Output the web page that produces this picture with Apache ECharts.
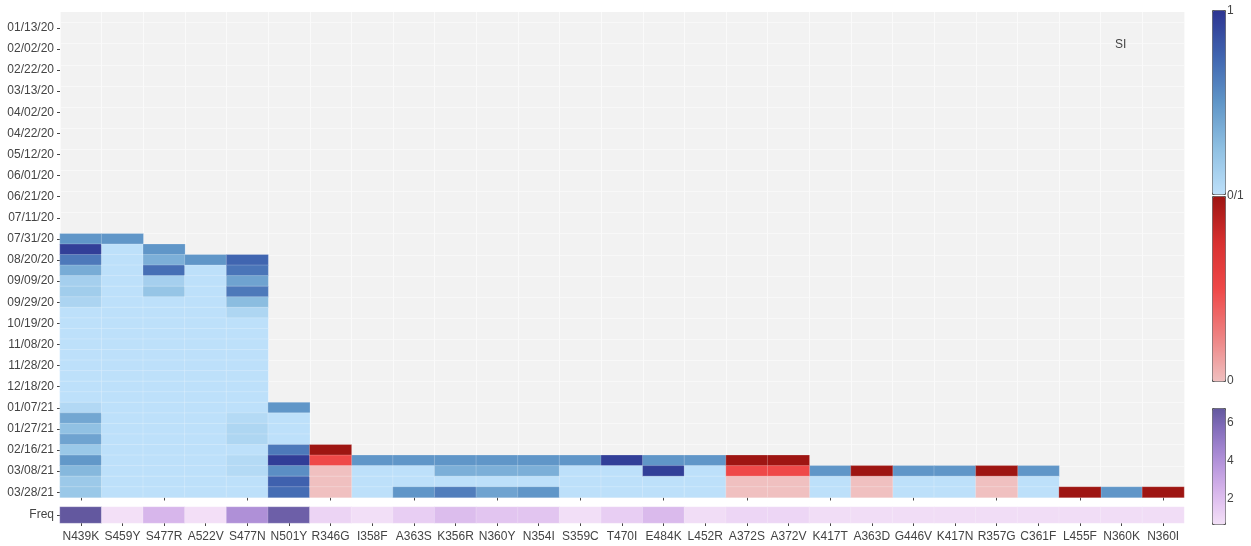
<!DOCTYPE html>
<html>
<head>
<meta charset="utf-8">
<script src="https://cdn.jsdelivr.net/npm/echarts@6/dist/echarts.min.js"></script>
<style>
  html, body { margin: 0; padding: 0; background: #fff; }
  #chart { width: 1251px; height: 546px; }
</style>
</head>
<body>
<div id="chart"></div>
<script>
// Mutations along the x axis
const mutations = ['N439K', 'S459Y', 'S477R', 'A522V', 'S477N', 'N501Y', 'R346G', 'I358F', 'A363S',
  'K356R', 'N360Y', 'N354I', 'S359C', 'T470I', 'E484K', 'L452R', 'A372S', 'A372V', 'K417T',
  'A363D', 'G446V', 'K417N', 'R357G', 'C361F', 'L455F', 'N360K', 'N360I'];

// Sampling dates (10-day bins) along the y axis
const dates = ['01/03/20', '01/13/20', '01/23/20', '02/02/20', '02/12/20', '02/22/20', '03/03/20',
  '03/13/20', '03/23/20', '04/02/20', '04/12/20', '04/22/20', '05/02/20', '05/12/20', '05/22/20',
  '06/01/20', '06/11/20', '06/21/20', '07/01/20', '07/11/20', '07/21/20', '07/31/20', '08/10/20',
  '08/20/20', '08/30/20', '09/09/20', '09/19/20', '09/29/20', '10/09/20', '10/19/20', '10/29/20',
  '11/08/20', '11/18/20', '11/28/20', '12/08/20', '12/18/20', '12/28/20', '01/07/21', '01/17/21',
  '01/27/21', '02/06/21', '02/16/21', '02/26/21', '03/08/21', '03/18/21', '03/28/21'];

// Mutations whose SI is drawn on the red scale
const redMutations = ['R346G', 'A372S', 'A372V', 'A363D', 'R357G', 'L455F', 'N360I'];

// First date bin (index into dates) in which each mutation has an SI value
const siStart = [21, 21, 22, 23, 23, 37, 41, 42, 42, 42, 42, 42, 42, 42, 42, 42, 42, 42, 43,
  43, 43, 43, 43, 43, 45, 45, 45];

// SI values per mutation, one per date bin from siStart onwards
const siValues = [
  [0.5, 0.95, 0.65, 0.37, 0.13, 0.15, 0.09, 0, 0, 0, 0, 0, 0, 0, 0, 0, 0.06, 0.4, 0.24, 0.42, 0.19, 0.49, 0.3, 0.18, 0.19],
  [0.5, 0, 0, 0, 0, 0, 0, 0, 0, 0, 0, 0, 0, 0, 0, 0, 0, 0, 0, 0, 0, 0, 0, 0, 0],
  [0.5, 0.35, 0.7, 0.13, 0.21, 0, 0, 0, 0, 0, 0, 0, 0, 0, 0, 0, 0, 0, 0, 0, 0, 0, 0, 0],
  [0.5, 0, 0, 0, 0, 0, 0, 0, 0, 0, 0, 0, 0, 0, 0, 0, 0, 0, 0, 0, 0, 0, 0],
  [0.75, 0.67, 0.42, 0.65, 0.27, 0.08, 0, 0, 0, 0, 0, 0, 0, 0, 0, 0.05, 0.08, 0.08, 0, 0.05, 0.05, 0, 0],
  [0.5, 0, 0, 0, 0.65, 0.96, 0.54, 0.77, 0.71],
  [1, 0.5, 0, 0, 0],
  [0.5, 0, 0, 0],
  [0.5, 0, 0, 0.5],
  [0.5, 0.35, 0, 0.62],
  [0.5, 0.35, 0, 0.42],
  [0.5, 0.35, 0, 0.5],
  [0.5, 0, 0, 0],
  [0.95, 0, 0, 0],
  [0.5, 0.95, 0, 0],
  [0.5, 0, 0, 0],
  [1, 0.5, 0, 0],
  [1, 0.5, 0, 0],
  [0.5, 0, 0],
  [1, 0, 0],
  [0.5, 0, 0],
  [0.5, 0, 0],
  [1, 0, 0],
  [0.5, 0, 0],
  [1],
  [0.5],
  [1]
];

// Frequency (log count) per mutation
const freq = [6.74, 0.69, 2.4, 0.72, 4.1, 6.4, 1.18, 0.75, 1.42, 2.1, 1.8, 1.8, 0.75, 1.42, 2.25,
  0.8, 1.1, 1.1, 0.8, 0.8, 0.8, 0.8, 0.8, 0.8, 0.8, 0.8, 0.8];

// Colour-bar tick labels
const freqTicks = [2, 4, 6];

const blueRamp = ['#bde0fa', '#8fc0e2', '#6096c8', '#4065b0', '#2e3592'];
const redRamp = ['#f0c0c0', '#ee8080', '#ef4848', '#d83030', '#9e1512'];
const purpRamp = ['#f3e0f7', '#e4c7f1', '#d1afe8', '#b998dd', '#9f82ce', '#826dba', '#63589f'];

const freqMin = 0.69, freqMax = 6.74;

// Split the SI cells into the blue and red heatmap series
const blueData = [], redData = [];
mutations.forEach((m, i) => {
  const target = redMutations.includes(m) ? redData : blueData;
  siValues[i].forEach((v, k) => target.push([i, siStart[i] + k, v]));
});
const freqData = freq.map((v, i) => [i, 0, v]);

const fontFamily = '"Liberation Sans", Arial, sans-serif';
const font = { fontFamily, fontSize: 12, color: '#444' };
const oddIdx = (idx) => idx % 2 === 1;

// Colour bar geometry
const barX = 1212, barW = 13;
const blueTop = 10, blueH = 184;
const redTop = 196, redH = 185;
const freqTop = 408, freqH = 116;

const labelText = (text, x, y) => ({
  type: 'text', x, y, z: 100,
  style: { text, fill: '#444', font: '12px ' + fontFamily, align: 'left', verticalAlign: 'middle' }
});

const graphics = [
  labelText('1', barX + barW + 2, blueTop + 1),
  labelText('0/1', barX + barW + 2, redTop),
  labelText('0', barX + barW + 2, redTop + redH),
  labelText('SI', 1115, 45)
];
freqTicks.forEach(t => {
  const y = freqTop + freqH - (t - freqMin) / (freqMax - freqMin) * freqH;
  graphics.push(labelText(String(t), barX + barW + 2, y));
});

const chart = echarts.init(document.getElementById('chart'), null, { renderer: 'canvas' });

const cellStyle = { borderColor: 'rgba(255,255,255,0.35)', borderWidth: 0.6 };

chart.setOption({
  animation: false,
  backgroundColor: '#fff',
  textStyle: font,
  grid: [
    { left: 60, top: 12, width: 1124, height: 485.5, show: true, backgroundColor: '#f2f2f2', borderWidth: 0 },
    { left: 60, top: 507, width: 1124, height: 16, show: false }
  ],
  xAxis: [
    {
      type: 'category', gridIndex: 0, data: mutations,
      axisLine: { show: false },
      axisTick: { show: true, alignWithLabel: true, length: 3, lineStyle: { color: '#444' } },
      axisLabel: { show: false },
      splitLine: { show: true, interval: 0, lineStyle: { color: '#fafafa', width: 1 } }
    },
    {
      type: 'category', gridIndex: 1, data: mutations,
      axisLine: { show: false },
      axisTick: { show: true, alignWithLabel: true, length: 3, lineStyle: { color: '#444' } },
      axisLabel: Object.assign({ interval: 0, margin: 8 }, font),
      splitLine: { show: false }
    }
  ],
  yAxis: [
    {
      type: 'category', gridIndex: 0, data: dates, inverse: true,
      axisLine: { show: false },
      axisTick: { show: true, alignWithLabel: true, length: 3, interval: oddIdx, lineStyle: { color: '#444' } },
      axisLabel: Object.assign({ interval: oddIdx, margin: 6 }, font),
      splitLine: { show: true, interval: oddIdx, lineStyle: { color: '#f8f8f8', width: 1 } }
    },
    {
      type: 'category', gridIndex: 1, data: ['Freq'],
      axisLine: { show: false },
      axisTick: { show: true, alignWithLabel: true, length: 3, lineStyle: { color: '#444' } },
      axisLabel: Object.assign({ margin: 6 }, font),
      splitLine: { show: false }
    }
  ],
  visualMap: [
    {
      type: 'continuous', seriesIndex: 0, min: 0, max: 1,
      inRange: { color: blueRamp }, calculable: false, hoverLink: false,
      left: barX, top: blueTop, itemWidth: barW, itemHeight: blueH,
      padding: 0, borderColor: '#555', borderWidth: 1, text: null, showLabel: false
    },
    {
      type: 'continuous', seriesIndex: 1, min: 0, max: 1,
      inRange: { color: redRamp }, calculable: false, hoverLink: false,
      left: barX, top: redTop, itemWidth: barW, itemHeight: redH,
      padding: 0, borderColor: '#555', borderWidth: 1, text: null, showLabel: false
    },
    {
      type: 'continuous', seriesIndex: 2, min: freqMin, max: freqMax,
      inRange: { color: purpRamp }, calculable: false, hoverLink: false,
      left: barX, top: freqTop, itemWidth: barW, itemHeight: freqH,
      padding: 0, borderColor: '#555', borderWidth: 1, text: null, showLabel: false
    }
  ],
  graphic: graphics,
  series: [
    { name: 'SI', type: 'heatmap', xAxisIndex: 0, yAxisIndex: 0, data: blueData, itemStyle: cellStyle, emphasis: { disabled: true } },
    { name: 'SI', type: 'heatmap', xAxisIndex: 0, yAxisIndex: 0, data: redData, itemStyle: cellStyle, emphasis: { disabled: true } },
    { name: 'Freq', type: 'heatmap', xAxisIndex: 1, yAxisIndex: 1, data: freqData, itemStyle: cellStyle, emphasis: { disabled: true } }
  ]
});
</script>
</body>
</html>
